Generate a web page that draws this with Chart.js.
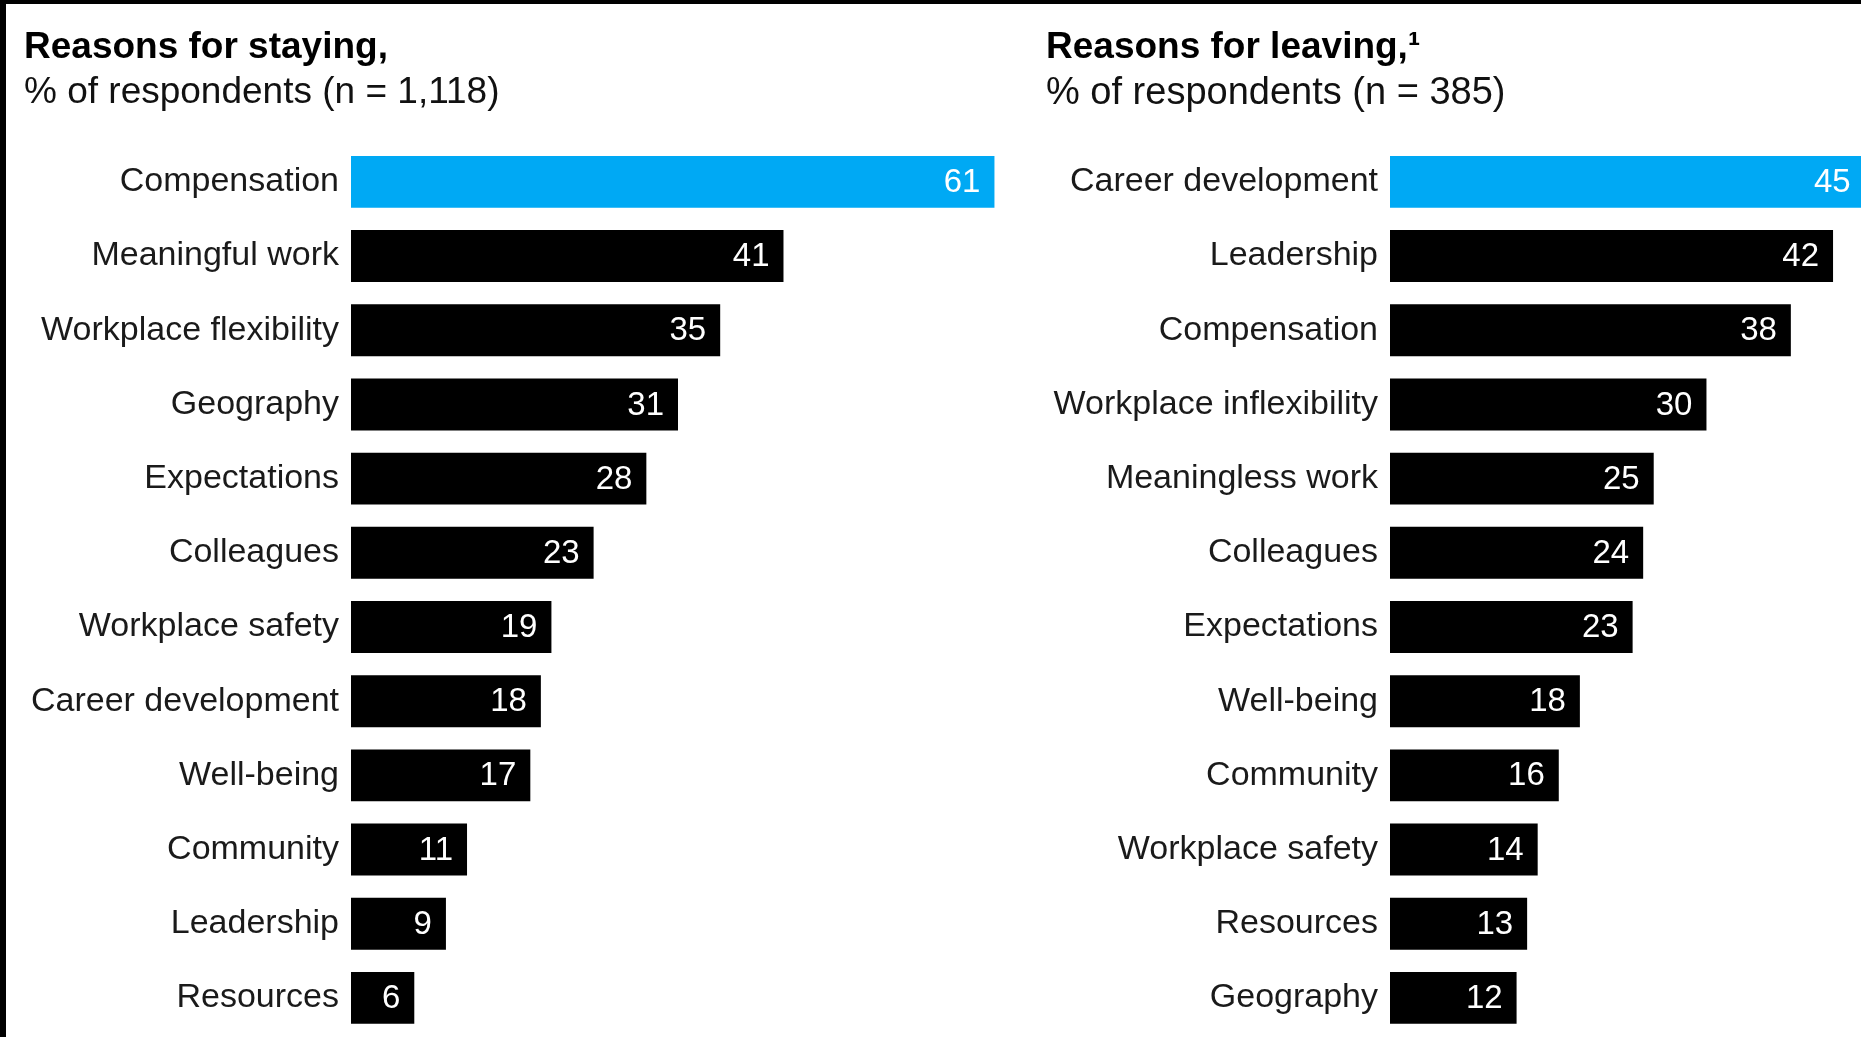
<!DOCTYPE html>
<html>
<head>
<meta charset="utf-8">
<script src="https://cdn.jsdelivr.net/npm/chart.js@4.4.1/dist/chart.umd.min.js"></script>
<style>
  html, body { margin: 0; padding: 0; background: #fff; }
  body { width: 1861px; height: 1037px; position: relative; overflow: hidden; }
  canvas { position: absolute; top: 0; }
  #leftChart { left: 0; }
  #rightChart { left: 1005px; }
  .edge { position: absolute; background: #000; }
</style>
</head>
<body>
<canvas id="leftChart" width="1005" height="1037"></canvas>
<canvas id="rightChart" width="856" height="1037"></canvas>
<div class="edge" style="left:0;top:0;width:1861px;height:4px"></div>
<div class="edge" style="left:0;top:0;width:6px;height:1037px"></div>
<script>
// dados
const stayLabels = ['Compensation', 'Meaningful work', 'Workplace flexibility', 'Geography', 'Expectations', 'Colleagues',
  'Workplace safety', 'Career development', 'Well-being', 'Community', 'Leadership', 'Resources'];
const stayValues = [61, 41, 35, 31, 28, 23, 19, 18, 17, 11, 9, 6];

const leaveLabels = ['Career development', 'Leadership', 'Compensation', 'Workplace inflexibility', 'Meaningless work', 'Colleagues',
  'Expectations', 'Well-being', 'Community', 'Workplace safety', 'Resources', 'Geography'];
const leaveValues = [45, 42, 38, 30, 25, 24, 23, 18, 16, 14, 13, 12];

const FONT = "'Liberation Sans', Arial, sans-serif";
const BLUE = '#00a9f4';

// escreve o valor dentro da ponta de cada barra
const valueLabels = {
  id: 'valueLabels',
  afterDatasetsDraw(chart) {
    const ctx = chart.ctx;
    const meta = chart.getDatasetMeta(0);
    const data = chart.data.datasets[0].data;
    ctx.save();
    ctx.font = '33px ' + FONT;
    ctx.fillStyle = '#fff';
    ctx.textAlign = 'right';
    ctx.textBaseline = 'middle';
    meta.data.forEach(function(bar, i) {
      ctx.fillText(String(data[i]), bar.x - 14, bar.y + 1);
    });
    ctx.restore();
  }
};

function criarGrafico(id, labels, values, title, subtitle, opts) {
  const ctx = document.getElementById(id).getContext('2d');
  return new Chart(ctx, {
    type: 'bar',
    data: {
      labels: labels,
      datasets: [{
        data: values,
        backgroundColor: values.map((v, i) => i === 0 ? BLUE : '#000'),
        borderWidth: 0,
        barPercentage: 0.70,
        categoryPercentage: 1.0
      }]
    },
    options: {
      indexAxis: 'y',
      responsive: false,
      animation: false,
      layout: { padding: { left: opts.padLeft, right: 0, top: 0, bottom: 2 } },
      scales: {
        x: { display: false, min: 0, max: opts.max },
        y: {
          afterFit: function(scale) {
            scale.width = opts.axisWidth;
            // as barras ocupam a altura toda, sem folga para os rótulos
            scale.paddingTop = 0;
            scale.paddingBottom = 0;
          },
          grid: { display: false, drawTicks: false },
          border: { display: false },
          ticks: {
            color: '#1a1a1a',
            padding: 12,
            font: { family: FONT, size: 34 }
          }
        }
      },
      plugins: {
        legend: { display: false },
        tooltip: { enabled: false },
        title: {
          display: true,
          text: title,
          align: 'start',
          color: '#000',
          font: { family: FONT, size: 37, weight: 'bold', lineHeight: 1.2 },
          padding: { top: 26, bottom: 0 }
        },
        subtitle: {
          display: true,
          text: subtitle,
          align: 'start',
          color: '#111',
          font: { family: FONT, size: opts.subSize, lineHeight: 1.2 },
          padding: { top: 0, bottom: opts.subGap }
        }
      }
    },
    plugins: [valueLabels]
  });
}

criarGrafico('leftChart', stayLabels, stayValues,
  'Reasons for staying,', '% of respondents (n = 1,118)',
  { padLeft: 24, axisWidth: 327, max: 62, subSize: 37, subGap: 30 });

criarGrafico('rightChart', leaveLabels, leaveValues,
  'Reasons for leaving,\u00b9', '% of respondents (n = 385)',
  { padLeft: 41, axisWidth: 344, max: 44.65, subSize: 38, subGap: 28.8 });
</script>
</body>
</html>
